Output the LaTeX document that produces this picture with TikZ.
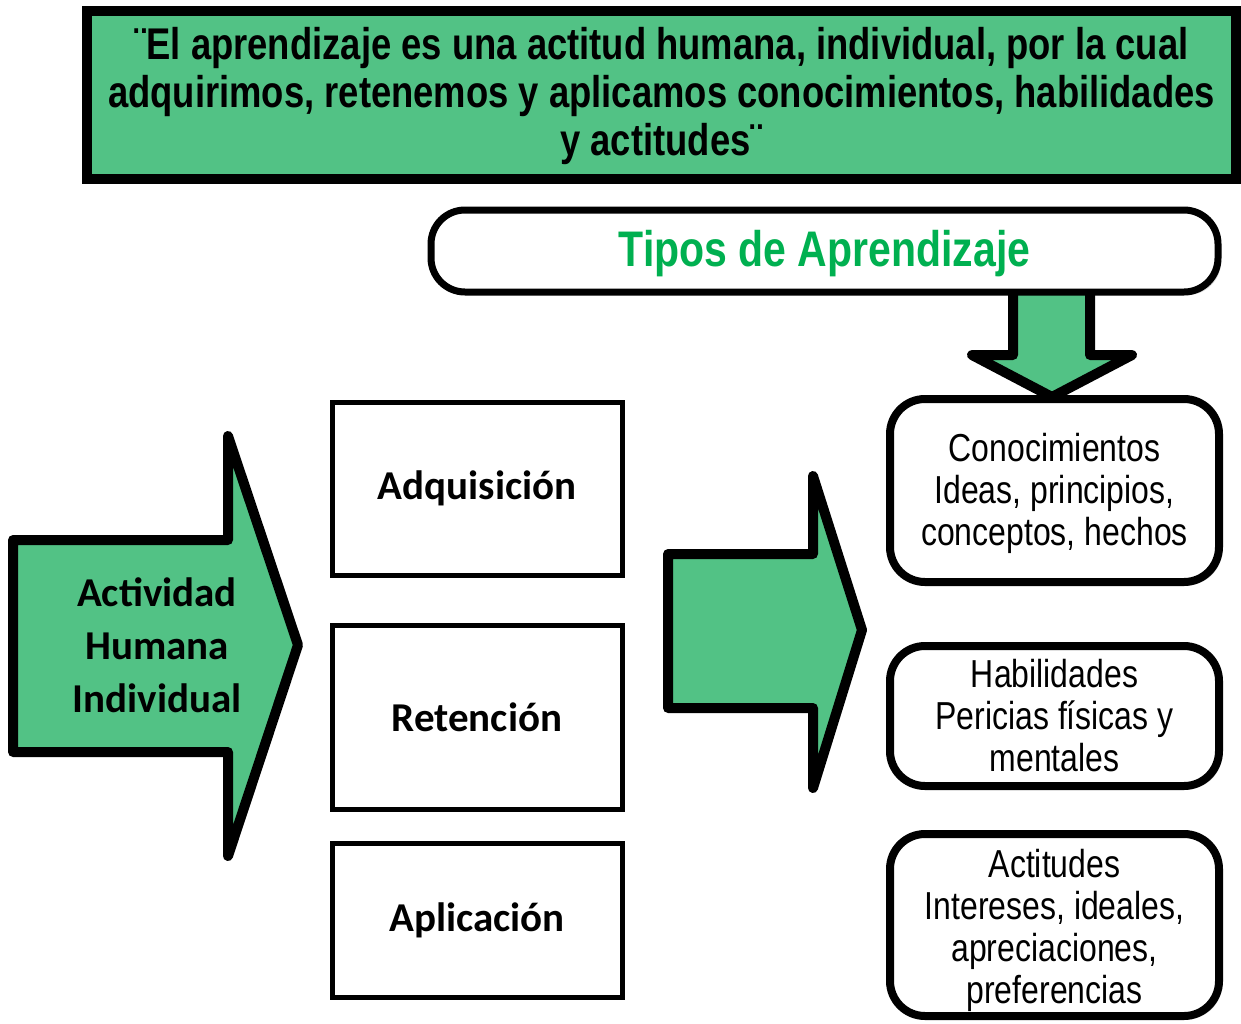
\documentclass[tikz,border=0pt]{standalone}
\usepackage{fontspec}
\setmainfont{Liberation Sans}
\newfontfamily\narrowfont[FakeStretch=0.82]{Liberation Sans}
\newfontfamily\calibrifont{Carlito}
\usetikzlibrary{shadows}
\definecolor{fillgreen}{HTML}{52C285}
\definecolor{titlegreen}{HTML}{00B050}
\tikzset{
  shad/.style={drop shadow={opacity=0.22, shadow xshift=1.6pt, shadow yshift=-1.6pt, fill=black!60}},
  bigarrow/.style={draw=black, fill=fillgreen, line width=5pt, line join=round, shad},
  quotebox/.style={draw=black, fill=fillgreen, line width=5pt, inner sep=0pt, shad,
    minimum width=574.5pt, minimum height=84pt},
  quotetext/.style={align=center, font=\narrowfont\bfseries\fontsize{22.2}{24}\selectfont},
  tiposbox/.style={draw=black, fill=white, line width=3.5pt, rounded corners=17pt, inner sep=0pt, shad,
    minimum width=393.5pt, minimum height=41pt, text=titlegreen},
  tipostext/.style={text=titlegreen, font=\narrowfont\bfseries\fontsize{25}{28}\selectfont},
  procbox/.style={draw=black, fill=white, line width=2.5pt, inner sep=0pt, shad,
    minimum width=145pt, font=\calibrifont\bfseries\fontsize{20.5}{26.5}\selectfont},
  typebox/.style={draw=black, fill=white, line width=4pt, rounded corners=17.5pt, inner sep=0pt, shad,
    minimum width=164.5pt},
  typetext/.style={align=center, font=\narrowfont\fontsize{19.5}{21}\selectfont},
  acttext/.style={align=center, font=\calibrifont\bfseries\fontsize{20.5}{26.5}\selectfont}
}
\begin{document}
\begin{tikzpicture}[x=0.5pt,y=-0.5pt]
\useasboundingbox (0,0) rectangle (1241,1023);
% top quote box
\node[quotebox] (quote) at (661.5,95) {};
\node[quotetext] (quotetxt) at (661.5,96) {¨El aprendizaje es una actitud humana, individual, por la cual\\adquirimos, retenemos y aplicamos conocimientos, habilidades\\y actitudes¨};
% down arrow (behind the Tipos box)
\draw[bigarrow] (1013,280) -- (1013,355) -- (972,355) -- (1052,397) -- (1132,355) -- (1090,355) -- (1090,280) -- cycle;
% tipos box
\node[tiposbox] (tipos) at (824.5,251) {};
\node[tipostext] (tipostxt) at (824.5,254) {Tipos de Aprendizaje};
% left big arrow
\draw[bigarrow] (13,540) -- (228,540) -- (228,436) -- (298,645) -- (228,856) -- (228,752) -- (13,752) -- cycle;
\node[acttext] (act) at (157,645) {Actividad\\Humana\\Individual};
% middle big arrow
\draw[bigarrow] (668,554) -- (813,554) -- (813,476) -- (862,630) -- (813,788) -- (813,708) -- (668,708) -- cycle;
% process boxes
\node[procbox, minimum height=86.5pt] (adq) at (477,488.5) {Adquisición};
\node[procbox, minimum height=92pt] (ret) at (477,717) {Retención};
\node[procbox, minimum height=77pt] (apl) at (477,920) {Aplicación};
% type boxes
\node[typebox, minimum height=91.5pt] (con) at (1054.5,490.5) {};
\node[typetext] (contxt) at (1054.5,493) {Conocimientos\\Ideas, principios,\\conceptos, hechos};
\node[typebox, minimum height=70pt] (hab) at (1054.5,716) {};
\node[typetext] (habtxt) at (1054.5,716) {Habilidades\\Pericias físicas y\\mentales};
\node[typebox, minimum height=91pt] (acti) at (1054.5,925) {};
\node[typetext] (actitxt) at (1054.5,930) {Actitudes\\Intereses, ideales,\\apreciaciones,\\preferencias};
\end{tikzpicture}
\end{document}
